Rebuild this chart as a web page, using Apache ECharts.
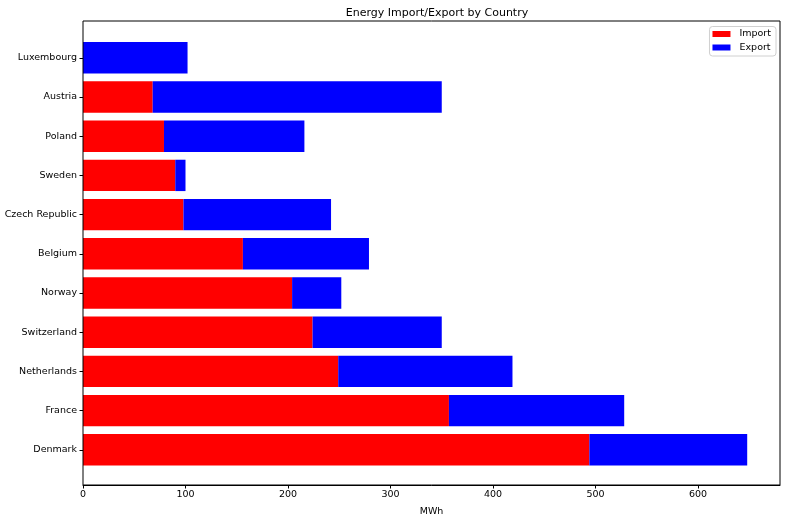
<!DOCTYPE html>
<html>
<head>
<meta charset="utf-8">
<script src="https://cdn.jsdelivr.net/npm/echarts@6/dist/echarts.min.js"></script>
<style>
html,body{margin:0;padding:0;background:#fff;}
#chart{width:786px;height:522px;}
</style>
</head>
<body>
<div id="chart"></div>
<script>
const countries = ['Luxembourg','Austria','Poland','Sweden','Czech Republic','Belgium','Norway','Switzerland','Netherlands','France','Denmark'];
const importValues = [0, 68, 79, 90, 98, 156, 204, 224, 249, 357, 494];
const exportValues = [102, 282, 137, 10, 144, 123, 48, 126, 170, 171, 154];
const xTicks = [0, 100, 200, 300, 400, 500, 600];

const font = 'DejaVu Sans';
const chart = echarts.init(document.getElementById('chart'), null, {renderer: 'canvas'});
chart.setOption({
  animation: false,
  backgroundColor: '#fff',
  textStyle: {fontFamily: font},
  title: {
    text: 'Energy Import/Export by Country',
    left: 432, textAlign: 'center', top: 3,
    textStyle: {fontFamily: font, fontSize: 11, fontWeight: 'normal', color: '#000'}
  },
  legend: {
    data: ['Import', 'Export'],
    orient: 'vertical', right: 10, top: 26.5,
    itemWidth: 18, itemHeight: 6, itemGap: 2.5,
    icon: 'rect',
    backgroundColor: '#fff', borderColor: '#d0d0d0', borderWidth: 1, borderRadius: 3,
    padding: [2, 5, 3, 3],
    textStyle: {fontFamily: font, fontSize: 9.5, color: '#000', lineHeight: 11, padding: [0, 0, 0, 4]}
  },
  grid: [
    {left: 83, right: 6, top: 38.2, bottom: 52.6, containLabel: false},
    {left: 83, right: 6, top: 21, bottom: 35, show: true, borderColor: '#000', borderWidth: 1, backgroundColor: 'transparent', z: 10}
  ],
  xAxis: [
    {gridIndex: 0, type: 'value', min: 0, max: 680, show: false},
    {gridIndex: 1, type: 'value', min: 0, max: 680, interval: 100,
     splitLine: {show: false},
     axisLine: {show: true, lineStyle: {color: '#000'}},
     axisTick: {show: true, length: 3.5, lineStyle: {color: '#000'}, customValues: xTicks},
     axisLabel: {fontFamily: font, fontSize: 9.5, color: '#000', margin: 5, customValues: xTicks},
     name: 'MWh', nameLocation: 'middle', nameGap: 22,
     nameTextStyle: {fontFamily: font, fontSize: 9.5, color: '#000'}}
  ],
  yAxis: [
    {gridIndex: 0, type: 'category', data: countries, inverse: true,
     axisLine: {show: false},
     axisTick: {show: true, alignWithLabel: true, length: 3.5, lineStyle: {color: '#000'}},
     axisLabel: {fontFamily: font, fontSize: 9.5, color: '#000', margin: 6}},
    {gridIndex: 1, type: 'value', min: 0, max: 1, show: false}
  ],
  series: [
    {name: 'Import', type: 'bar', stack: 'total', xAxisIndex: 0, yAxisIndex: 0,
     data: importValues, barWidth: '80%', itemStyle: {color: '#ff0000'}},
    {name: 'Export', type: 'bar', stack: 'total', xAxisIndex: 0, yAxisIndex: 0,
     data: exportValues, barWidth: '80%', itemStyle: {color: '#0000ff'}}
  ]
});
</script>
</body>
</html>
